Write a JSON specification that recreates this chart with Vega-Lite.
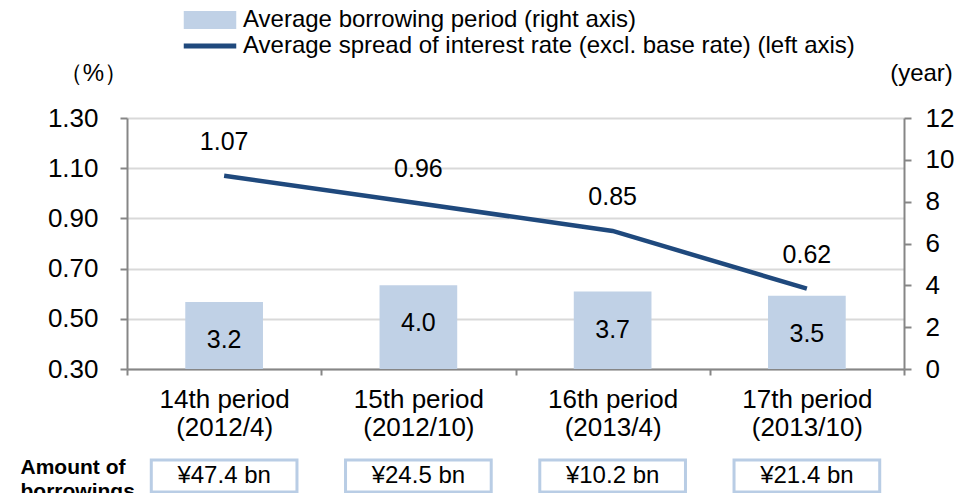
{
  "$schema": "https://vega.github.io/schema/vega-lite/v6.json",
  "padding": {"left": 20, "top": 8, "right": 5, "bottom": 0},
  "background": "white",
  "config": {"font": "Liberation Sans", "view": {"stroke": null}},
  "spacing": 16,
  "datasets": {
    "main": [
      {"period": "14th period|(2012/4)", "years": 3.2, "spread": 1.07, "amount": "¥47.4 bn"},
      {"period": "15th period|(2012/10)", "years": 4.0, "spread": 0.96, "amount": "¥24.5 bn"},
      {"period": "16th period|(2013/4)", "years": 3.7, "spread": 0.85, "amount": "¥10.2 bn"},
      {"period": "17th period|(2013/10)", "years": 3.5, "spread": 0.62, "amount": "¥21.4 bn"}
    ]
  },
  "vconcat": [
    {
      "width": 777,
      "height": 251,
      "data": {"name": "main"},
      "encoding": {
        "x": {
          "field": "period", "type": "nominal", "sort": null,
          "scale": {"paddingInner": 0, "paddingOuter": 0},
          "axis": {
            "title": null, "labelExpr": "datum.value ? split(datum.value, '|') : ''", "labelFontSize": 26,
            "labelColor": "black", "labelLineHeight": 28, "labelPadding": 11, "labelAngle": 0,
            "tickBand": "extent", "tickSize": 6, "tickColor": "#868686", "tickWidth": 2,
            "domainColor": "#868686", "domainWidth": 2, "grid": false
          }
        }
      },
      "layer": [
        {
          "layer": [
            {
              "mark": {"type": "bar", "width": {"band": 0.4}},
              "encoding": {
                "y": {
                  "field": "years", "type": "quantitative",
                  "scale": {"domain": [0, 12], "nice": false},
                  "axis": {
                    "orient": "right", "values": [0, 2, 4, 6, 8, 10, 12],
                    "labelFontSize": 26, "labelColor": "black", "labelPadding": 14,
                    "tickSize": 7, "tickColor": "#868686", "tickWidth": 2,
                    "domainColor": "#868686", "domainWidth": 2, "grid": false,
                    "title": "(year)", "titleAngle": 0, "titleX": 17, "titleY": -45,
                    "titleFontSize": 24, "titleFontWeight": "normal", "titleAlign": "center",
                    "titleBaseline": "middle", "titleColor": "black"
                  }
                },
                "color": {
                  "datum": "Average borrowing period (right axis)",
                  "scale": {
                    "domain": ["Average borrowing period (right axis)", "Average spread of interest rate (excl. base rate) (left axis)"],
                    "range": ["#c0d1e6", "#1f497d"]
                  },
                  "legend": {
                    "orient": "none", "legendX": 71, "legendY": -110, "title": null,
                    "labelFontSize": 24, "labelColor": "black", "labelLimit": 0, "rowPadding": 2,
                    "symbolSize": 441, "labelOffset": 21, "padding": 0,
                    "encode": {
                      "symbols": {
                        "update": {
                          "shape": {"signal": "datum.value === 'Average borrowing period (right axis)' ? 'M-2.5,-0.86H2.5V0.86H-2.5Z' : 'M-2.5,-0.24H2.5V0.24H-2.5Z'"},
                          "fill": {"signal": "scale('color', datum.value)"},
                          "stroke": {"value": "transparent"},
                          "strokeWidth": {"value": 0},
                          "opacity": {"value": 1}
                        }
                      }
                    }
                  }
                }
              }
            },
            {
              "mark": {"type": "text", "fontSize": 25, "dy": 38, "color": "black"},
              "encoding": {
                "y": {"field": "years", "type": "quantitative"},
                "text": {"field": "years", "type": "quantitative", "format": ".1f"}
              }
            }
          ]
        },
        {
          "layer": [
            {
              "mark": {"type": "line", "strokeWidth": 4.5},
              "encoding": {
                "y": {
                  "field": "spread", "type": "quantitative",
                  "scale": {"domain": [0.3, 1.3], "nice": false, "zero": false},
                  "axis": {
                    "orient": "left", "values": [0.3, 0.5, 0.7, 0.9, 1.1, 1.3], "format": ".2f",
                    "labelFontSize": 26, "labelColor": "black", "labelPadding": 22,
                    "tickSize": 7, "tickColor": "#868686", "tickWidth": 2,
                    "domainColor": "#868686", "domainWidth": 2,
                    "grid": true, "gridColor": "#d9d9d9", "gridWidth": 2,
                    "title": "（%）", "titleAngle": 0, "titleX": -34, "titleY": -45,
                    "titleFontSize": 24, "titleFontWeight": "normal", "titleAlign": "center",
                    "titleBaseline": "middle", "titleColor": "black"
                  }
                },
                "color": {"datum": "Average spread of interest rate (excl. base rate) (left axis)"}
              }
            },
            {
              "mark": {"type": "text", "fontSize": 25, "dy": -34, "color": "black"},
              "encoding": {
                "y": {"field": "spread", "type": "quantitative"},
                "text": {"field": "spread", "type": "quantitative", "format": ".2f"}
              }
            }
          ]
        }
      ],
      "resolve": {"scale": {"y": "independent"}}
    },
    {
      "width": 777,
      "height": 32,
      "data": {"name": "main"},
      "encoding": {
        "x": {
          "field": "period", "type": "nominal", "sort": null,
          "scale": {"paddingInner": 0, "paddingOuter": 0}, "axis": null
        },
        "y": {
          "datum": "Amount of|borrowings", "type": "nominal",
          "scale": {"paddingInner": 0, "paddingOuter": 0},
          "axis": {
            "title": null, "labelExpr": "split(datum.value, '|')", "labelFontSize": 21,
            "labelFontWeight": "bold", "labelAlign": "left", "labelPadding": 107,
            "ticks": false, "tickSize": 0, "domain": false, "labelLineHeight": 24,
            "labelColor": "black", "labelLimit": 0, "labelOffset": -8
          }
        }
      },
      "layer": [
        {
          "mark": {"type": "bar", "fill": "white", "stroke": "#b9cde5", "strokeWidth": 3, "width": {"band": 0.75}}
        },
        {
          "mark": {"type": "text", "fontSize": 24, "color": "black"},
          "encoding": {"text": {"field": "amount"}}
        }
      ]
    }
  ]
}
